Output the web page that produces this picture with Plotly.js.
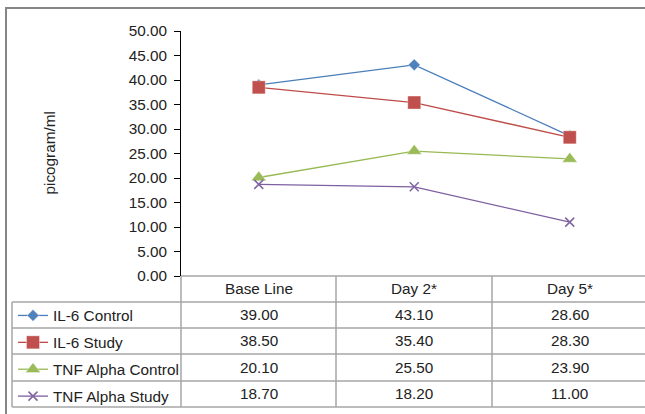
<!DOCTYPE html>
<html><head><meta charset="utf-8">
<script src="https://cdn.plot.ly/plotly-3.0.1.min.js"></script>
<style>html,body{margin:0;padding:0;overflow:hidden;background:#fff}</style>
</head><body><div id="chart" style="width:645px;height:414px"></div>
<script>
const categories = ['Base Line', 'Day 2*', 'Day 5*'];
const seriesNames = ['IL-6 Control', 'IL-6 Study', 'TNF Alpha Control', 'TNF Alpha Study'];
const il6Control = [39.00, 43.10, 28.60];
const il6Study = [38.50, 35.40, 28.30];
const tnfControl = [20.10, 25.50, 23.90];
const tnfStudy = [18.70, 18.20, 11.00];
const yTitle = 'picogram/ml';

const seriesValues = [il6Control, il6Study, tnfControl, tnfStudy];
const lineColors = ['#4A7EBB', '#BE4B48', '#98B954', '#7D60A0'];
const markerColors = ['#4F81BD', '#C0504D', '#9BBB59', '#8064A2'];
const symbols = ['diamond', 'square', 'triangle-up', 'x-thin-open'];
const sizes = [9, 13, 13, 9];

const W = 645, H = 414, L = 181, T = 31, B = 276, R = 645;
const pw = R - L, ph = B - T;
const px = x => (x - L) / pw;
const py = y => (B - y) / ph;
const FONT = 'Liberation Sans, Arial, sans-serif';
const TXT = '#222222';
const FS = 15.3;

const traces = seriesValues.map((vals, i) => ({
  type: 'scatter', mode: 'lines+markers', x: categories, y: vals, name: seriesNames[i],
  legendgroup: 'g' + i,
  line: {color: lineColors[i], width: 1.3},
  marker: {symbol: symbols[i], size: sizes[i], color: markerColors[i],
    line: symbols[i] === 'x-thin-open' ? {color: markerColors[i], width: 1.5} : {color: 'rgba(255,255,255,0.35)', width: 1}},
  cliponaxis: false
}));

const rowTops = [276, 302, 328, 354, 381, 407];
const colX = [12, 181, 336, 492, 648];
const annotations = [];
categories.forEach((c, j) => {
  annotations.push({xref: 'x', yref: 'paper', x: j, y: py((rowTops[0] + rowTops[1]) / 2 - 0.5),
    text: c, showarrow: false, xanchor: 'center', yanchor: 'middle', font: {family: FONT, size: FS, color: TXT}});
});
seriesValues.forEach((vals, i) => {
  vals.forEach((v, j) => {
    annotations.push({xref: 'x', yref: 'paper', x: j, y: py((rowTops[i + 1] + rowTops[i + 2]) / 2 - 0.5),
      text: v.toFixed(2), showarrow: false, xanchor: 'center', yanchor: 'middle', font: {family: FONT, size: FS, color: TXT}});
  });
});
annotations.push({xref: 'paper', yref: 'paper', x: px(49), y: py((T + B) / 2), text: yTitle, textangle: -90,
  showarrow: false, xanchor: 'center', yanchor: 'middle', font: {family: FONT, size: FS, color: TXT}});

const gridColor = '#a6a6a6';
const shapes = [];
for (let r = 1; r < rowTops.length; r++) {
  shapes.push({type: 'line', xref: 'paper', yref: 'paper', x0: px(colX[0]), x1: px(colX[4]), y0: py(rowTops[r]), y1: py(rowTops[r]),
    line: {color: gridColor, width: 1.5}});
}
shapes.push({type: 'line', xref: 'paper', yref: 'paper', x0: px(colX[0]), x1: px(colX[0]), y0: py(rowTops[1]), y1: py(rowTops[5]), line: {color: gridColor, width: 1.5}});
for (let c = 1; c < 4; c++) {
  shapes.push({type: 'line', xref: 'paper', yref: 'paper', x0: px(colX[c]), x1: px(colX[c]), y0: py(rowTops[0]), y1: py(rowTops[5]), line: {color: gridColor, width: 1.5}});
}
shapes.push({type: 'line', xref: 'paper', yref: 'paper', x0: px(colX[1]), x1: px(colX[4]), y0: py(rowTops[0]), y1: py(rowTops[0]), line: {color: gridColor, width: 1.5}});
// outer frame
shapes.push({type: 'rect', xref: 'paper', yref: 'paper', x0: px(6), x1: px(700), y0: py(8), y1: py(460), line: {color: '#868686', width: 2}, fillcolor: 'rgba(0,0,0,0)'});

const layout = {
  width: W, height: H,
  margin: {l: L, r: W - R, t: T, b: H - B, pad: 0},
  paper_bgcolor: '#fff', plot_bgcolor: '#fff',
  font: {family: FONT, size: FS, color: TXT},
  showlegend: true,
  legend: {x: px(13), y: py(299), xanchor: 'left', yanchor: 'top', traceorder: 'grouped', tracegroupgap: 4,
    font: {family: FONT, size: FS, color: TXT}, bgcolor: 'rgba(0,0,0,0)', borderwidth: 0, itemwidth: 30},
  xaxis: {type: 'category', range: [-0.5, 2.5 - 2.5 / 155.5], showticklabels: false, ticks: '', showgrid: false, zeroline: false,
    showline: false, fixedrange: true},
  yaxis: {range: [0, 50], dtick: 5, tick0: 0, tickformat: '.2f', ticks: 'outside', ticklen: 6, tickcolor: '#000', tickwidth: 1,
    showline: true, linecolor: '#000', linewidth: 1, showgrid: false, zeroline: false, fixedrange: true, ticklabelstandoff: 4,
    tickfont: {family: FONT, size: FS, color: TXT}},
  annotations: annotations,
  shapes: shapes
};
Plotly.newPlot('chart', traces, layout, {displayModeBar: false, staticPlot: true});
</script></body></html>
